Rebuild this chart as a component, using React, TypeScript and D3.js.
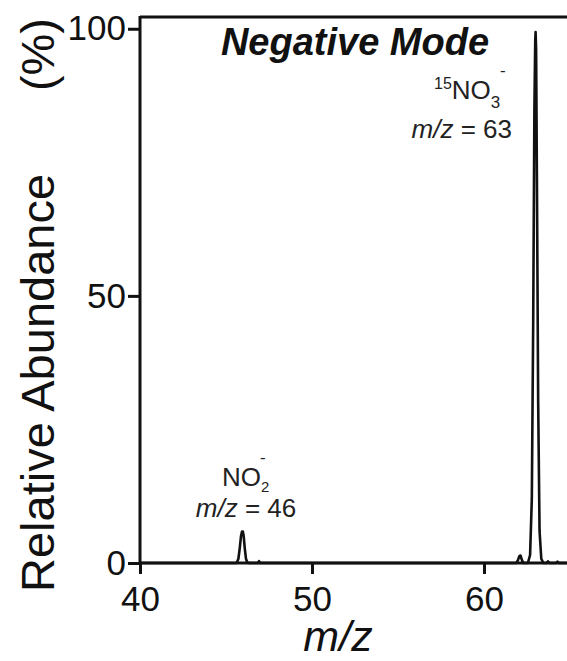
import { useEffect, useRef } from "react";
import * as d3 from "d3";

// spectrum trace (m/z, relative abundance %)
const mzValues = [
  40, 45.62, 45.72, 45.8, 45.87, 45.93, 45.98, 46.03, 46.09, 46.16, 46.24, 46.34,
  46.85, 46.92, 46.99, 61.88, 61.98, 62.06, 62.12, 62.19, 62.28, 62.55, 62.68,
  62.78, 62.86, 62.93, 62.98, 63.0, 63.03, 63.08, 63.15, 63.23, 63.33, 63.45,
  63.65, 63.72, 63.8, 64.2, 64.27, 64.34, 65,
];
const abundanceValues = [
  0, 0, 0.8, 2.8, 5.0, 5.9, 5.9, 5.0, 2.8, 0.8, 0.1, 0,
  0, 0.35, 0, 0, 0.6, 1.3, 1.4, 0.7, 0, 0, 1.5,
  12, 45, 85, 98, 99.4, 96, 70, 30, 6, 0.8, 0,
  0, 0.3, 0, 0, 0.25, 0, 0,
];

const xTicks = [40, 50, 60];
const yTicks = [0, 50, 100];
const xDomain = [40, 65];
const yDomain = [0, 102.2];

const FONT = "'Liberation Sans', Arial, Helvetica, sans-serif";

const MassSpectrum = () => {
  const ref = useRef<SVGSVGElement | null>(null);

  useEffect(() => {
    if (!ref.current) return;
    const svg = d3.select(ref.current);
    svg.selectAll("*").remove();

    const x = d3.scaleLinear().domain(xDomain).range([140, 570]);
    const y = d3.scaleLinear().domain(yDomain).range([563, 17]);

    // x axis
    const gx = svg
      .append("g")
      .attr("transform", `translate(0,${y(0)})`)
      .call(
        d3.axisBottom(x).tickValues(xTicks).tickSize(11).tickSizeOuter(0).tickPadding(12)
      );
    gx.select(".domain").remove();
    gx.selectAll("line").attr("stroke", "#111").attr("stroke-width", 3);
    gx.selectAll("text")
      .attr("font-family", FONT)
      .attr("font-size", 35)
      .attr("fill", "#111");

    // y axis
    const gy = svg
      .append("g")
      .attr("transform", `translate(${x(40)},0)`)
      .call(d3.axisLeft(y).tickValues(yTicks).tickSize(12).tickSizeOuter(0).tickPadding(2));
    gy.select(".domain").remove();
    gy.selectAll("line").attr("stroke", "#111").attr("stroke-width", 3);
    gy.selectAll("text")
      .attr("font-family", FONT)
      .attr("font-size", 35)
      .attr("fill", "#111");

    // frame: left, bottom, top
    const frame = svg.append("g").attr("stroke", "#111").attr("stroke-width", 3);
    frame
      .append("line")
      .attr("x1", x(40))
      .attr("x2", x(40))
      .attr("y1", y(yDomain[1]) - 1)
      .attr("y2", y(0) + 1);
    frame
      .append("line")
      .attr("x1", x(40))
      .attr("x2", x(65))
      .attr("y1", y(0))
      .attr("y2", y(0));
    frame
      .append("line")
      .attr("x1", x(40))
      .attr("x2", x(65))
      .attr("y1", y(yDomain[1]))
      .attr("y2", y(yDomain[1]));

    // spectrum trace
    const pts: [number, number][] = mzValues.map((m, i) => [m, abundanceValues[i]]);
    const line = d3
      .line<[number, number]>()
      .x((d) => x(d[0]))
      .y((d) => y(d[1]));
    svg
      .append("path")
      .datum(pts)
      .attr("d", line)
      .attr("fill", "none")
      .attr("stroke", "#111")
      .attr("stroke-width", 2.6)
      .attr("stroke-linejoin", "round");

    // axis titles
    svg
      .append("text")
      .attr("transform", `translate(54,592) rotate(-90)`)
      .attr("font-family", FONT)
      .attr("font-size", 47)
      .attr("fill", "#111")
      .text("Relative Abundance");
    svg
      .append("text")
      .attr("transform", `translate(54,18) rotate(-90)`)
      .attr("text-anchor", "end")
      .attr("font-family", FONT)
      .attr("font-size", 47)
      .attr("fill", "#111")
      .text("(%)");

    svg
      .append("text")
      .attr("x", 338)
      .attr("y", 651)
      .attr("text-anchor", "middle")
      .attr("font-family", FONT)
      .attr("font-style", "italic")
      .attr("font-size", 43)
      .attr("fill", "#111")
      .text("m/z");

    svg
      .append("text")
      .attr("x", 355)
      .attr("y", 55)
      .attr("text-anchor", "middle")
      .attr("font-family", FONT)
      .attr("font-style", "italic")
      .attr("font-weight", "bold")
      .attr("font-size", 38)
      .attr("fill", "#111")
      .text("Negative Mode");

    // peak labels
    const ann = svg.append("g").attr("font-family", FONT).attr("fill", "#222");

    // 15NO3- at m/z 63
    const t63 = ann.append("text").attr("x", 434).attr("y", 99);
    t63.append("tspan").attr("font-size", 16).attr("dy", -10).text("15");
    t63.append("tspan").attr("font-size", 26).attr("dy", 10).text("NO");
    t63.append("tspan").attr("font-size", 17).attr("dy", 9).text("3");
    ann.append("text").attr("x", 500).attr("y", 76).attr("font-size", 17).text("-");
    const m63 = ann
      .append("text")
      .attr("x", 512)
      .attr("y", 138)
      .attr("text-anchor", "end")
      .attr("font-size", 26);
    m63.append("tspan").attr("font-style", "italic").text("m/z");
    m63.append("tspan").text(" = 63");

    // NO2- at m/z 46
    const t46 = ann.append("text").attr("x", 222).attr("y", 486);
    t46.append("tspan").attr("font-size", 26).text("NO");
    t46.append("tspan").attr("font-size", 15).attr("dy", 6).text("2");
    ann.append("text").attr("x", 260).attr("y", 463).attr("font-size", 17).text("-");
    const m46 = ann
      .append("text")
      .attr("x", 246)
      .attr("y", 517)
      .attr("text-anchor", "middle")
      .attr("font-size", 26);
    m46.append("tspan").attr("font-style", "italic").text("m/z");
    m46.append("tspan").text(" = 46");
  }, []);

  return (
    <svg
      ref={ref}
      width={567}
      height={661}
      style={{ position: "absolute", left: 0, top: 0, background: "#fff" }}
    />
  );
};

export default function App() {
  return <MassSpectrum />;
}
